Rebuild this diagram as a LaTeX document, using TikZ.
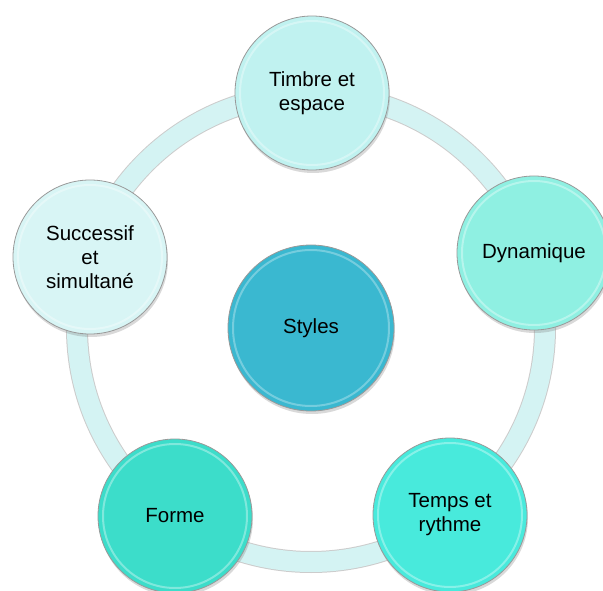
\documentclass[tikz,border=0pt]{standalone}
\usepackage{fontspec}
\setmainfont{Liberation Sans}
\usetikzlibrary{shadows}

\definecolor{ringfill}{RGB}{212,243,243}
\definecolor{cSucc}{RGB}{216,245,245}
\definecolor{cTimbre}{RGB}{192,242,240}
\definecolor{cDyn}{RGB}{143,240,226}
\definecolor{cTemps}{RGB}{72,234,220}
\definecolor{cForme}{RGB}{60,221,202}
\definecolor{cStyles}{RGB}{58,184,208}

\tikzset{
  bubble/.style={circle, minimum size=154pt, inner sep=0pt, align=center,
    draw=black!40, line width=0.8pt,
    font=\fontsize{20.5}{24}\selectfont,
    drop shadow={opacity=0.3, shadow xshift=1pt, shadow yshift=-3pt},
    path picture={\draw[white, opacity=0.35, line width=2pt]
      (path picture bounding box.center) circle[radius=72pt];}},
  hub/.style={bubble, minimum size=166pt,
    path picture={\draw[white, opacity=0.3, line width=2pt]
      (path picture bounding box.center) circle[radius=78pt];}}
}

\begin{document}
\begin{tikzpicture}[x=1pt,y=1pt]
  \useasboundingbox (0,0) rectangle (603,590);
  \clip (0,0) rectangle (603,590);

  % Centre
  \coordinate (O) at (311,262);

  % Ring
  \draw[line width=22pt, draw=black!20] (O) circle[radius=234];
  \draw[line width=20pt, draw=ringfill] (O) circle[radius=234];

  % Nodes
  \node[hub, fill=cStyles] (Styles) at (O) {Styles};
  \node[bubble, fill=cTimbre] (Timbre) at (312,497) {Timbre et\\espace};
  \node[bubble, fill=cDyn] (Dyn) at (534,337) {Dynamique};
  \node[bubble, fill=cTemps] (Temps) at (450,75) {Temps et\\rythme};
  \node[bubble, fill=cForme] (Forme) at (175,74) {Forme};
  \node[bubble, fill=cSucc] (Succ) at (90,333) {Successif\\et\\simultané};
\end{tikzpicture}
\end{document}
